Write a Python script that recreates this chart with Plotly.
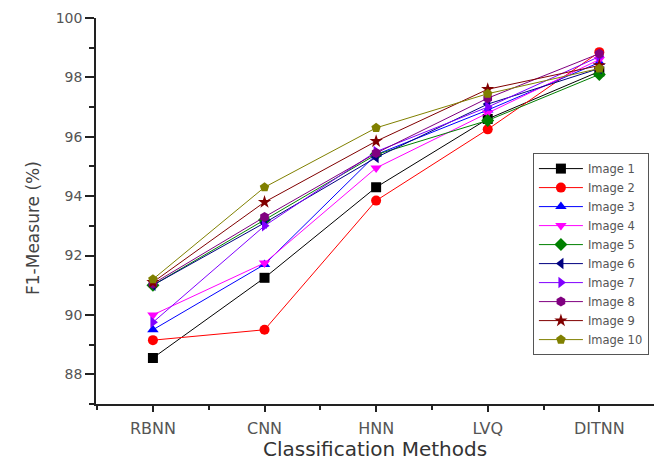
import plotly.graph_objects as go

methods = ["RBNN", "CNN", "HNN", "LVQ", "DITNN"]
series_names = ["Image 1", "Image 2", "Image 3", "Image 4", "Image 5",
                "Image 6", "Image 7", "Image 8", "Image 9", "Image 10"]
image1 = [88.55, 91.25, 94.30, 96.60, 98.20]
image2 = [89.15, 89.50, 93.85, 96.25, 98.85]
image3 = [89.50, 91.70, 95.40, 96.90, 98.50]
image4 = [90.00, 91.75, 94.95, 96.80, 98.60]
image5 = [91.00, 93.20, 95.40, 96.55, 98.10]
image6 = [91.00, 93.10, 95.30, 97.10, 98.30]
image7 = [89.75, 93.00, 95.50, 97.00, 98.70]
image8 = [91.05, 93.30, 95.45, 97.30, 98.80]
image9 = [91.10, 93.80, 95.85, 97.60, 98.40]
image10 = [91.20, 94.30, 96.30, 97.45, 98.30]
all_values = [image1, image2, image3, image4, image5,
              image6, image7, image8, image9, image10]

colors = ["#000000", "#FF0000", "#0000FF", "#FF00FF", "#008000",
          "#000080", "#8000FF", "#800080", "#800000", "#808000"]
symbols = ["square", "circle", "triangle-up", "triangle-down", "diamond",
           "triangle-left", "triangle-right", "hexagon", "star", "pentagon"]

xs = list(range(len(methods)))
fig = go.Figure()
for name, vals, c, s in zip(series_names, all_values, colors, symbols):
    fig.add_trace(go.Scatter(
        x=xs, y=vals, name=name, mode="lines+markers",
        line=dict(color=c, width=1),
        marker=dict(symbol=s, color=c, size=10, line=dict(width=0)),
    ))

# page body has an 8px default margin, so the figure is sized/placed to compensate
font_family = "DejaVu Sans, Liberation Sans, Arial, sans-serif"
fig.update_layout(
    width=661, height=453,
    margin=dict(l=88, r=15, t=10, b=57),
    paper_bgcolor="white", plot_bgcolor="white",
    font=dict(family=font_family, color="#333333", size=12),
    showlegend=True,
    legend=dict(
        x=0.783, y=0.650, xanchor="left", yanchor="top",
        xref="paper", yref="paper",
        bordercolor="#555555", borderwidth=1, bgcolor="white",
        font=dict(size=11.5, color="#555555"),
        tracegroupgap=0, itemwidth=44,
    ),
    xaxis=dict(
        range=[-0.51, 4.49], tickmode="array", tickvals=xs, ticktext=methods,
        showgrid=False, zeroline=False, showline=True, linecolor="#222222",
        linewidth=1.5, ticks="outside", ticklen=6, tickcolor="#222222",
        tickwidth=1.5, automargin=False, ticklabelstandoff=3,
        minor=dict(tickmode="linear", tick0=0.5, dtick=1, ticks="outside",
                   ticklen=4, tickcolor="#222222", tickwidth=1.5),
        tickfont=dict(size=16, color="#555555"),
        title=dict(text="Classification Methods",
                   font=dict(size=20, color="#333333"), standoff=6),
    ),
    yaxis=dict(
        range=[87, 100], tickmode="linear", tick0=88, dtick=2,
        showgrid=False, zeroline=False, showline=True, linecolor="#222222",
        linewidth=1.5, ticks="outside", ticklen=9, tickcolor="#222222",
        tickwidth=1.5, automargin=False,
        minor=dict(tickmode="linear", tick0=87, dtick=1, ticks="outside",
                   ticklen=5, tickcolor="#222222", tickwidth=1.5),
        tickfont=dict(size=14, color="#555555"),
    ),
    annotations=[dict(
        text="F1-Measure (%)", textangle=-90, showarrow=False,
        xref="paper", yref="paper", x=0, y=0.456,
        xanchor="center", yanchor="middle", xshift=-63,
        font=dict(size=17, color="#444444"),
    )],
)

fig.write_html("out.html")
